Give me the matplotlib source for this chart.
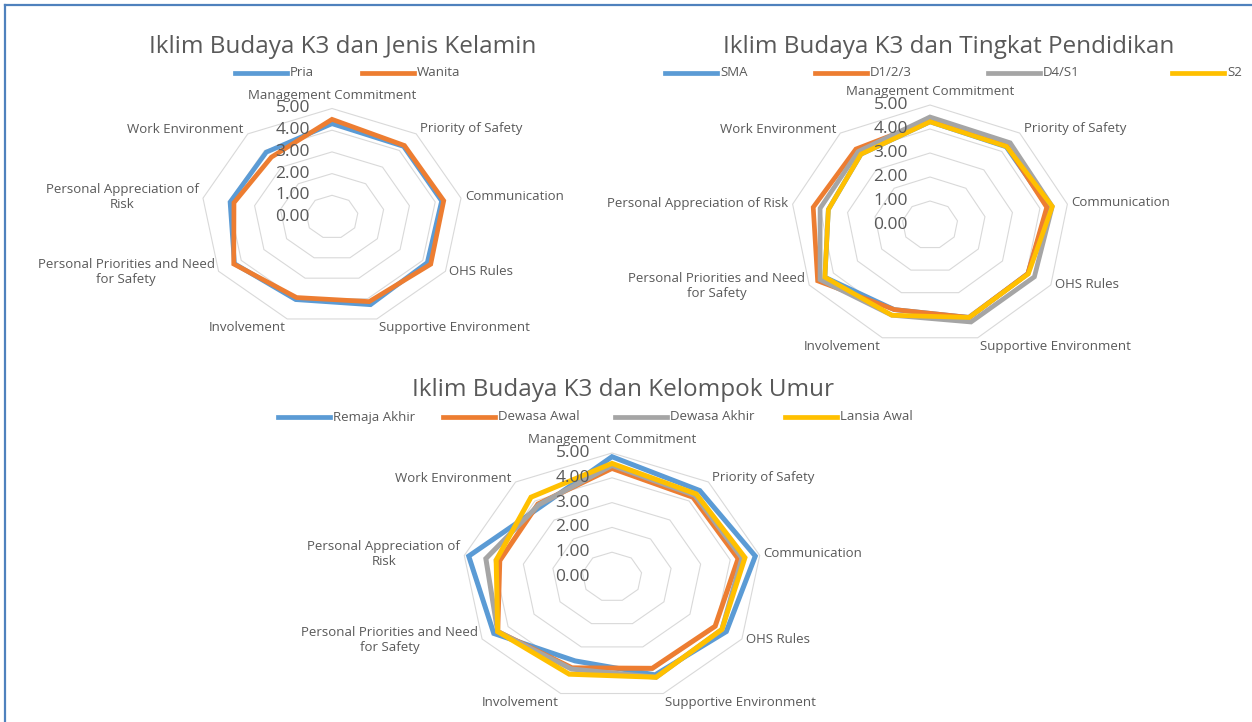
import numpy as np
import matplotlib
matplotlib.use("Agg")
import matplotlib.pyplot as plt
from matplotlib.lines import Line2D

plt.rcParams["font.family"] = ["Open Sans", "DejaVu Sans"]

W, H = 1252, 722
GRID = "#D9D9D9"
TXT = "#595959"

categories = ["Management Commitment", "Priority of Safety", "Communication", "OHS Rules",
              "Supportive Environment", "Involvement", "Personal Priorities and Need\nfor Safety",
              "Personal Appreciation of\nRisk", "Work Environment"]
categories_wide = categories[:7] + ["Personal Appreciation of Risk", "Work Environment"]

# chart 1: gender
gender_names = ["Pria", "Wanita"]
pria = [4.30, 4.25, 4.25, 4.20, 4.30, 4.05, 4.30, 3.95, 3.90]
wanita = [4.50, 4.30, 4.33, 4.35, 4.15, 3.95, 4.33, 3.80, 3.60]

# chart 2: education
edu_names = ["SMA", "D1/2/3", "D4/S1", "S2"]
sma = [4.30, 4.25, 4.30, 4.05, 4.10, 3.75, 4.35, 3.70, 3.85]
d123 = [4.35, 4.30, 4.25, 4.05, 4.10, 3.75, 4.65, 4.25, 4.13]
d4s1 = [4.50, 4.47, 4.45, 4.32, 4.30, 4.00, 4.55, 4.00, 4.00]
s2 = [4.30, 4.27, 4.45, 4.07, 4.10, 4.00, 4.35, 3.70, 3.85]

# chart 3: age group
age_names = ["Remaja Akhir", "Dewasa Awal", "Dewasa Akhir", "Lansia Awal"]
remaja_akhir = [4.85, 4.55, 4.85, 4.40, 4.20, 3.60, 4.55, 4.85, 3.70]
dewasa_awal = [4.38, 4.20, 4.27, 3.97, 3.92, 3.90, 4.40, 3.80, 3.84]
dewasa_akhir = [4.50, 4.30, 4.40, 4.23, 4.30, 3.95, 4.40, 4.27, 3.80]
lansia_awal = [4.58, 4.37, 4.50, 4.23, 4.30, 4.17, 4.40, 3.92, 4.20]

ticks = [0, 1, 2, 3, 4, 5]
colors = ["#5B9BD5", "#ED7D31", "#A5A5A5", "#FFC000"]

n = len(categories)
theta = np.arange(n) * 2 * np.pi / n

# label placement per axis: ha, va, offset in px
lab_style = [("center", "bottom", 0, 7), ("left", "center", 4, 5), ("left", "center", 4, 2),
             ("left", "center", 4, 0), ("left", "top", 2, -2), ("right", "top", -2, -2),
             ("right", "center", -4, -1), ("right", "center", -4, 1), ("right", "center", -4, 4)]

fig = plt.figure(figsize=(W / 100, H / 100), dpi=100)

# outer frame (left and top edges visible)
fig.add_artist(Line2D([5 / W, 5 / W], [0, 1 - 5 / H], color="#4F81BD", lw=1.6))
fig.add_artist(Line2D([5 / W, 1], [1 - 5 / H, 1 - 5 / H], color="#4F81BD", lw=1.6))


def radar(cx, cy, rx5, ry5, series, names, cats, title, title_xy, leg_x, leg_y, lw):
    w, h = 2.6 * rx5, 2.6 * ry5
    ax = fig.add_axes([(cx - w / 2) / W, 1 - (cy + h / 2) / H, w / W, h / H])
    ax.set_xlim(-6.5, 6.5)
    ax.set_ylim(-6.5, 6.5)
    ax.axis("off")
    sx, sy = np.sin(theta), np.cos(theta)
    for r in ticks[1:]:
        ax.fill(r * sx, r * sy, fill=False, edgecolor=GRID, lw=0.8, zorder=1)
    for vals, c in zip(series, colors):
        v = np.array(vals)
        ax.fill(v * sx, v * sy, fill=False, edgecolor=c, lw=lw, joinstyle="miter", zorder=3)
    for t in ticks:
        ax.annotate(f"{t:.2f}", (0, t), xytext=(-22 * 0.72, 0), textcoords="offset points",
                    ha="right", va="center", fontsize=12.5, color=TXT, zorder=4)
    for i, lab in enumerate(cats):
        ha, va, ox, oy = lab_style[i]
        ax.annotate(lab, (5 * sx[i], 5 * sy[i]), xytext=(ox * 0.72, oy * 0.72), textcoords="offset points",
                    ha=ha, va=va, multialignment="center", fontsize=9.5, color=TXT, annotation_clip=False)
    fig.text(title_xy[0] / W, 1 - title_xy[1] / H, title, ha="center", va="center", fontsize=17.5, color=TXT)
    for name, c, lx in zip(names, colors, leg_x):
        fig.add_artist(Line2D([lx / W, (lx + 52) / W], [1 - leg_y / H] * 2, color=c, lw=3.4))
        fig.text((lx + 55) / W, 1 - leg_y / H, name, ha="left", va="center", fontsize=9.5, color=TXT)


radar(332, 217, 131, 108.5, [pria, wanita], gender_names, categories,
      "Iklim Budaya K3 dan Jenis Kelamin", (343, 47), [235, 362], 73, 3.4)
radar(930, 225, 139.5, 120, [sma, d123, d4s1, s2], edu_names, categories_wide,
      "Iklim Budaya K3 dan Tingkat Pendidikan", (949, 47), [665, 815, 988, 1172], 73, 3.4)
radar(612, 577, 150, 124, [remaja_akhir, dewasa_awal, dewasa_akhir, lansia_awal], age_names, categories,
      "Iklim Budaya K3 dan Kelompok Umur", (623, 390), [278, 443, 615, 785], 417, 3.6)

fig.savefig("out.png", dpi=100)
